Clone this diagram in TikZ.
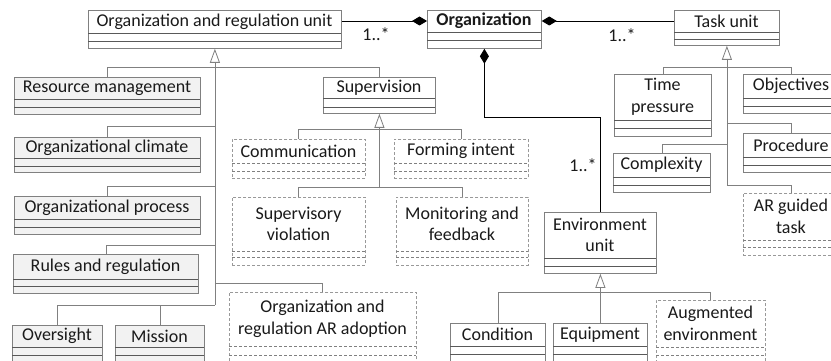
\documentclass[tikz,border=0pt]{standalone}
\usepackage{fontspec}
\setmainfont{Carlito}
\usetikzlibrary{arrows.meta}

\definecolor{boxline}{HTML}{808080}
\definecolor{sepdark}{HTML}{595959}
\definecolor{boxfill}{HTML}{F2F2F2}
\definecolor{txt}{HTML}{1A1A1A}

\tikzset{
  cls/.style={draw=boxline, line width=0.8pt, fill=white, inner sep=0pt},
  clsg/.style={draw=boxline, line width=0.8pt, fill=boxfill, inner sep=0pt},
  clsd/.style={draw=boxline!80, line width=0.7pt, dash pattern=on 3pt off 2pt, fill=white, inner sep=0pt},
  clssep/.style={draw=sepdark, line width=0.8pt},
  clsgsep/.style={draw=sepdark, line width=0.8pt},
  clsdsep/.style={draw=boxline, line width=0.7pt, dash pattern=on 3pt off 2pt},
  boxtext/.style={text=txt, align=center, inner sep=0pt,
    font=\fontsize{18}{21.5}\selectfont},
  conn/.style={draw=boxline, line width=0.8pt},
  gen/.style={conn, {Triangle[open, length=14pt, width=10pt, fill=white]}-},
  assoc/.style={draw=black, line width=0.9pt, {Diamond[length=15pt, width=9pt]}-},
  mult/.style={text=txt, inner sep=0pt, font=\fontsize{18}{20}\selectfont},
}

% UML class box: name, style, x1, y1, x2, first separator, second separator, bottom, text
\newcommand{\umlbox}[9]{%
  \pgfmathsetmacro{\bw}{#5-#3}%
  \pgfmathsetmacro{\bh}{#8-#4}%
  \node[#2, minimum width=\bw pt, minimum height=\bh pt, anchor=north west] (#1) at (#3,#4) {};
  \node[boxtext] (#1-t) at ({(#3+#5)/2},{(#4+#6)/2}) {#9};
  \draw[#2sep] (#3,#6) -- (#5,#6);
  \draw[#2sep] (#3,#7) -- (#5,#7);
}

\begin{document}
\begin{tikzpicture}[x=1pt, y=-1pt]
\useasboundingbox (0,0) rectangle (831,361);
\clip (0,0) rectangle (831,361);
\fill[white] (0,0) rectangle (831,361);

% top row
\umlbox{oru}{cls}{88}{10}{341}{33}{41}{48}{Organization and regulation unit}
\umlbox{org}{cls}{427}{10}{541}{32}{40}{48}{\bfseries Organization}
\umlbox{tu}{cls}{674}{10}{779}{32}{39}{45}{Task unit}

% organization and regulation children
\umlbox{rm}{clsg}{14}{77}{200}{99}{107}{114}{Resource management}
\umlbox{oc}{clsg}{14}{137}{200}{158}{166}{172}{Organizational climate}
\umlbox{op}{clsg}{14}{196}{200}{219}{227}{234}{Organizational process}
\umlbox{rr}{clsg}{13}{254}{198}{279}{286}{293}{Rules and regulation}
\umlbox{ov}{clsg}{12}{325}{102}{347}{355}{372}{Oversight}
\umlbox{mi}{clsg}{115}{325}{204}{347}{355}{372}{Mission}
\umlbox{sup}{cls}{323}{77}{435}{98}{107}{113}{Supervision}
\umlbox{ara}{clsd}{229}{292}{416}{346}{355}{372}{Organization and\\regulation AR adoption}

% supervision children
\umlbox{com}{clsd}{232}{139}{365}{163}{171}{178}{Communication}
\umlbox{fi}{clsd}{394}{139}{528}{163}{171}{178}{Forming intent}
\umlbox{sv}{clsd}{232}{197}{365}{251}{257}{265}{Supervisory\\violation}
\umlbox{mf}{clsd}{396}{197}{528}{251}{257}{265}{Monitoring and\\feedback}

% environment
\umlbox{env}{cls}{544}{212}{656}{258}{266}{273}{Environment\\unit}
\umlbox{cd}{cls}{450}{323}{545}{346}{354}{372}{Condition}
\umlbox{eq}{cls}{553}{323}{647}{346}{354}{372}{Equipment}
\umlbox{ae}{clsd}{656}{300}{765}{347}{355}{372}{Augmented\\environment}

% task children
\umlbox{tp}{cls}{614}{74}{711}{120}{128}{136}{Time\\pressure}
\umlbox{ob}{cls}{743}{74}{839}{98}{106}{113}{Objectives}
\umlbox{pr}{cls}{743}{133}{839}{157}{165}{172}{Procedure}
\umlbox{cx}{cls}{613}{153}{710}{177}{185}{192}{Complexity}
\umlbox{ar}{clsd}{743}{193}{839}{240}{247}{255}{AR guided\\task}

% bar levels
\coordinate (yo1) at (0,67);
\coordinate (yo2) at (0,126);
\coordinate (yo3) at (0,186);
\coordinate (yo4) at (0,245);
\coordinate (yo5) at (0,283);
\coordinate (yo6) at (0,305);
\coordinate (ys1) at (0,129);
\coordinate (ys2) at (0,187);
\coordinate (yt1) at (0,67);
\coordinate (yt2) at (0,123);
\coordinate (yt3) at (0,144);
\coordinate (yt4) at (0,185);
\coordinate (ye) at (0,292);
\coordinate (yenv) at (0,117);

% compositions
\draw[assoc] (org-t -| org.west) -- (org-t -| oru.east);
\draw[assoc] (org-t -| org.east) -- (org-t -| tu.west);
\draw[assoc] (org.south) |- (env.north |- yenv) -- (env.north);
\node[mult] (m1) at (376,34) {1..*};
\node[mult] (m2) at (622,35) {1..*};
\node[mult] (m3) at (583,165) {1..*};

% generalization: organization and regulation unit
\draw[gen] (oru.south) -- (oru.south |- yo6);
\draw[conn] (rm.north) |- (sup.north |- yo1) -- (sup.north);
\draw[conn] (oc.north) |- (oru.south |- yo2);
\draw[conn] (op.north) |- (oru.south |- yo3);
\draw[conn] (rr.north) |- (oru.south |- yo4);
\draw[conn] (oru.south |- yo5) -| (ara.north);
\draw[conn] (ov.north) |- (mi.north |- yo6) -- (mi.north);
\draw[conn] (mi.north |- yo6) -- (oru.south |- yo6);

% generalization: supervision
\draw[gen] (sup.south) -- (sup.south |- ys2);
\draw[conn] (com.north) |- (fi.north |- ys1) -- (fi.north);
\draw[conn] (sv.north) |- (mf.north |- ys2) -- (mf.north);

% generalization: task unit
\draw[gen] (tu.south) -- (tu.south |- yt4);
\draw[conn] (tp.north) |- (ob.north |- yt1) -- (ob.north);
\draw[conn] (tu.south |- yt2) -| (pr.north);
\draw[conn] (tu.south |- yt3) -| (cx.north);
\draw[conn] (tu.south |- yt4) -| (ar.north);

% generalization: environment unit
\draw[gen] (env.south) -- (eq.north);
\draw[conn] (cd.north) |- (ae.north |- ye) -- (ae.north);
\end{tikzpicture}
\end{document}
